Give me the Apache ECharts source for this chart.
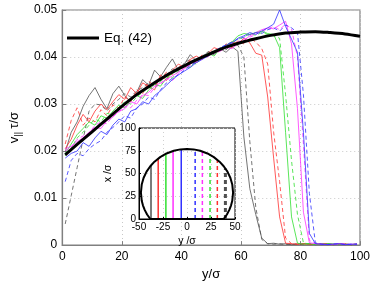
<!DOCTYPE html>
<html><head><meta charset="utf-8">
<script src="https://cdn.jsdelivr.net/npm/echarts@6/dist/echarts.min.js"></script>
<style>html,body{margin:0;padding:0;background:#fff}#c{width:374px;height:286px}</style>
</head><body><div id="c"></div>
<script>
// x positions (y/σ) of the measured profiles
const xs=[1,3,5,7,9,11,13,15,17,19,21,23,25,27,29,31,33,35,37,39,41,43,45,47,49,51,53,55,57,59,61,63,65,67,69,71,73,75,77,79,81,83,85,87,89,91,93,95,97,99];
// Eq. (42)
const eqX=[1,5,10,15,20,25,30,35,40,45,50,55,60,65,70,75,80,85,90,95,100];
const eqY=[.0192,.0214,.0241,.0268,.0295,.0320,.0341,.0361,.0378,.0394,.0408,.0421,.0431,.0439,.0446,.0451,.0453,.0454,.0452,.0449,.0444];
// profiles
const kSolid=[.0198,.0240,.0262,.0295,.0318,.0335,.0310,.0290,.0322,.0338,.0318,.0305,.0325,.0352,.0340,.0372,.0358,.0378,.0396,.0372,.0385,.0405,.0392,.0398,.0412,.0405,.0418,.0410,.0422,.0412,.0230,.0120,.0065,.0015,.0003,.0004,.0002,.0003,.0001,.0002,.0003,.0002,.0001,.0002,.0003,.0001,.0002,.0002,.0001,.0002];
const kDash=[.0045,.0105,.0165,.0225,.0285,.0300,.0298,.0285,.0300,.0310,.0322,.0315,.0328,.0335,.0345,.0338,.0355,.0362,.0375,.0370,.0388,.0395,.0385,.0402,.0410,.0408,.0420,.0415,.0428,.0425,.0400,.0220,.0080,.0012,.0003,.0002,.0003,.0001,.0002,.0002,.0001,.0003,.0002,.0001,.0002,.0002,.0001,.0002,.0001,.0002];
const rSolid=[.0205,.0225,.0255,.0278,.0262,.0285,.0300,.0288,.0305,.0320,.0310,.0335,.0322,.0345,.0338,.0330,.0362,.0350,.0372,.0385,.0378,.0395,.0402,.0395,.0408,.0420,.0415,.0425,.0432,.0428,.0440,.0430,.0408,.0404,.0315,.0185,.0060,.0004,.0003,.0002,.0003,.0001,.0002,.0003,.0002,.0001,.0002,.0002,.0001,.0002];
const rDash=[.0215,.0265,.0292,.0255,.0270,.0262,.0288,.0275,.0298,.0292,.0315,.0305,.0330,.0322,.0348,.0340,.0352,.0368,.0362,.0380,.0375,.0392,.0388,.0405,.0400,.0415,.0410,.0428,.0420,.0435,.0428,.0440,.0432,.0418,.0385,.0240,.0135,.0015,.0003,.0002,.0003,.0002,.0001,.0002,.0003,.0001,.0002,.0002,.0001,.0002];
const gSolid=[.0195,.0215,.0235,.0248,.0262,.0255,.0275,.0270,.0285,.0298,.0292,.0308,.0318,.0312,.0330,.0342,.0338,.0355,.0365,.0372,.0380,.0378,.0392,.0398,.0408,.0402,.0418,.0425,.0432,.0445,.0450,.0448,.0452,.0455,.0450,.0448,.0420,.0240,.0060,.0004,.0002,.0003,.0001,.0002,.0002,.0003,.0001,.0002,.0001,.0002];
const gDash=[.0190,.0205,.0228,.0240,.0255,.0268,.0262,.0280,.0278,.0292,.0305,.0300,.0315,.0325,.0335,.0332,.0348,.0358,.0355,.0370,.0382,.0390,.0385,.0398,.0405,.0415,.0412,.0420,.0430,.0438,.0442,.0450,.0446,.0452,.0448,.0445,.0440,.0320,.0180,.0065,.0005,.0002,.0001,.0002,.0003,.0002,.0001,.0002,.0001,.0002];
const mSolid=[.0205,.0210,.0220,.0228,.0240,.0250,.0248,.0265,.0272,.0285,.0290,.0305,.0300,.0318,.0325,.0338,.0345,.0352,.0360,.0368,.0375,.0385,.0392,.0398,.0402,.0410,.0412,.0420,.0418,.0428,.0435,.0445,.0452,.0458,.0462,.0460,.0468,.0476,.0428,.0290,.0070,.0005,.0003,.0002,.0001,.0002,.0003,.0001,.0002,.0002];
const mDash=[.0200,.0208,.0225,.0232,.0238,.0255,.0262,.0258,.0275,.0282,.0295,.0292,.0308,.0320,.0318,.0335,.0342,.0355,.0350,.0365,.0378,.0382,.0390,.0395,.0405,.0408,.0418,.0422,.0428,.0432,.0438,.0442,.0448,.0455,.0460,.0465,.0458,.0470,.0460,.0400,.0215,.0010,.0003,.0002,.0001,.0002,.0002,.0003,.0001,.0002];
const bSolid=[.0185,.0195,.0200,.0218,.0210,.0228,.0242,.0235,.0255,.0268,.0262,.0285,.0290,.0305,.0300,.0318,.0328,.0340,.0352,.0362,.0370,.0378,.0388,.0395,.0402,.0410,.0418,.0425,.0430,.0440,.0445,.0452,.0448,.0455,.0462,.0470,.0500,.0465,.0438,.0410,.0240,.0025,.0003,.0002,.0001,.0002,.0003,.0001,.0002,.0002];
const bDash=[.0135,.0180,.0195,.0190,.0205,.0215,.0222,.0240,.0250,.0262,.0275,.0270,.0292,.0300,.0315,.0310,.0330,.0345,.0355,.0362,.0372,.0382,.0390,.0398,.0408,.0412,.0420,.0426,.0432,.0438,.0442,.0448,.0452,.0450,.0458,.0462,.0455,.0468,.0462,.0452,.0320,.0110,.0005,.0002,.0001,.0002,.0003,.0001,.0002,.0002];
// inset: drop outline and slice positions
const domeX=[-38.25,-41.57,-44.08,-45.91,-47.15,-48,-47.15,-45.25,-42.13,-38.25,-33.88,-27.98,-21.33,-13.71,-6.91,0,6.91,13.71,21.33,27.98,33.88,38.25,42.13,45.25,47.15,48,47.15,45.91,44.08,41.57,38.25,-38.25];
const domeY=[0,5,10,15,20,29,38,45,52,58,63,68,72,75,76.5,77,76.5,75,72,68,63,58,52,45,38,29,20,15,10,5,0,0];
const sliceX=[-37.5,-30,-22,-14.5,-6,8.5,16,24,31.6,40];
const sliceTop=[59,66.5,71.7,74.8,76.6,76.2,74.3,70.6,65.1,55.5];

const cols={k:'#505050',r:'#ff3030',g:'#30e030',m:'#ff30ff',b:'#3030ff'};
const profiles=[
  [kSolid,cols.k,false],[kDash,cols.k,true],
  [rSolid,cols.r,false],[rDash,cols.r,true],
  [gSolid,cols.g,false],[gDash,cols.g,true],
  [mSolid,cols.m,false],[mDash,cols.m,true],
  [bSolid,cols.b,false],[bDash,cols.b,true]
];
const sliceCols=[cols.k,cols.r,cols.g,cols.m,cols.b,cols.b,cols.m,cols.g,cols.r,cols.k];
const FF='"Liberation Sans", Arial, sans-serif';
const series=[];
profiles.forEach((p,i)=>{
  series.push({type:'line',xAxisIndex:0,yAxisIndex:0,symbol:'none',z:2,silent:true,
    data:xs.map((x,j)=>[x,p[0][j]]),
    lineStyle:{color:p[1],width:0.8,type:p[2]?[4,3]:'solid'}});
});
series.push({name:'Eq. (42)',type:'line',xAxisIndex:0,yAxisIndex:0,symbol:'none',z:3,smooth:0.3,
  data:eqX.map((x,j)=>[x,eqY[j]]),lineStyle:{color:'#000',width:3},itemStyle:{color:'#000'}});
sliceX.forEach((x,i)=>{
  series.push({type:'line',xAxisIndex:1,yAxisIndex:1,symbol:'none',z:8,silent:true,
    data:[[x,0],[x,sliceTop[i]]],
    lineStyle:{color:sliceCols[i],width:i===9?3:1.5,type:i>=5?[4,3]:'solid'}});
});
series.push({type:'line',xAxisIndex:1,yAxisIndex:1,symbol:'none',z:9,silent:true,clip:false,
  data:domeX.map((x,j)=>[x,domeY[j]]),lineStyle:{color:'#000',width:2}});

const chart=echarts.init(document.getElementById('c'),null,{renderer:'canvas'});
chart.setOption({
  animation:false,
  textStyle:{fontFamily:FF},
  grid:[
    {left:52,right:14,top:10,bottom:33,show:true,borderColor:'#808080',borderWidth:1.2,z:0},
    {left:139,top:128,width:96,height:91,show:true,backgroundColor:'#fff',borderColor:'#000',borderWidth:1,z:5}
  ],
  legend:{data:['Eq. (42)'],left:62,top:26,icon:'rect',itemWidth:32,itemHeight:3,itemGap:6,
    textStyle:{fontSize:13.5,color:'#000',fontFamily:FF}},
  xAxis:[
    {gridIndex:0,type:'value',min:0,max:100,interval:20,
     axisLine:{lineStyle:{color:'#808080',width:1.2}},
     axisTick:{inside:true,length:4,lineStyle:{color:'#808080'}},
     axisLabel:{fontSize:12,color:'#000',margin:6,fontFamily:FF},
     splitLine:{show:true,lineStyle:{color:'#c8c8c8',type:[1,3],width:1}},
     name:'y/σ',nameLocation:'middle',nameGap:18,nameTextStyle:{fontSize:13,color:'#000',fontFamily:FF}},
    {gridIndex:1,type:'value',min:-50,max:50,interval:25,z:6,
     axisLine:{onZero:false,lineStyle:{color:'#000',width:1}},
     axisTick:{inside:true,length:2,lineStyle:{color:'#000'}},
     axisLabel:{fontSize:10,color:'#000',margin:3,fontFamily:FF},
     splitLine:{show:true,lineStyle:{color:'#d0d0d0',type:[1,3],width:1}},
     name:'y /σ',nameLocation:'middle',nameGap:17,nameTextStyle:{fontSize:10.5,color:'#000',fontFamily:FF}}
  ],
  yAxis:[
    {gridIndex:0,type:'value',min:0,max:0.05,interval:0.01,
     axisLine:{lineStyle:{color:'#808080',width:1.2}},
     axisTick:{inside:true,length:4,lineStyle:{color:'#808080'}},
     axisLabel:{fontSize:12,color:'#000',margin:5,fontFamily:FF,formatter:v=>v===0?'0':v.toFixed(2)},
     splitLine:{show:true,lineStyle:{color:'#c8c8c8',type:[1,3],width:1}},
     name:'{a|v}{s|||} {a|τ/σ}',nameLocation:'middle',nameGap:36,
     nameTextStyle:{color:'#000',fontFamily:FF,rich:{a:{fontSize:13,fontFamily:FF},s:{fontSize:9,padding:[8,0,0,0],fontFamily:FF}}}},
    {gridIndex:1,type:'value',min:0,max:100,interval:25,z:6,
     axisLine:{onZero:false,lineStyle:{color:'#000',width:1}},
     axisTick:{inside:true,length:2,lineStyle:{color:'#000'}},
     axisLabel:{fontSize:10,color:'#000',margin:3,fontFamily:FF},
     splitLine:{show:true,lineStyle:{color:'#d0d0d0',type:[1,3],width:1}},
     name:'x /σ',nameLocation:'middle',nameGap:25,nameTextStyle:{fontSize:10.5,color:'#000',fontFamily:FF}}
  ],
  series:series
});
</script></body></html>
